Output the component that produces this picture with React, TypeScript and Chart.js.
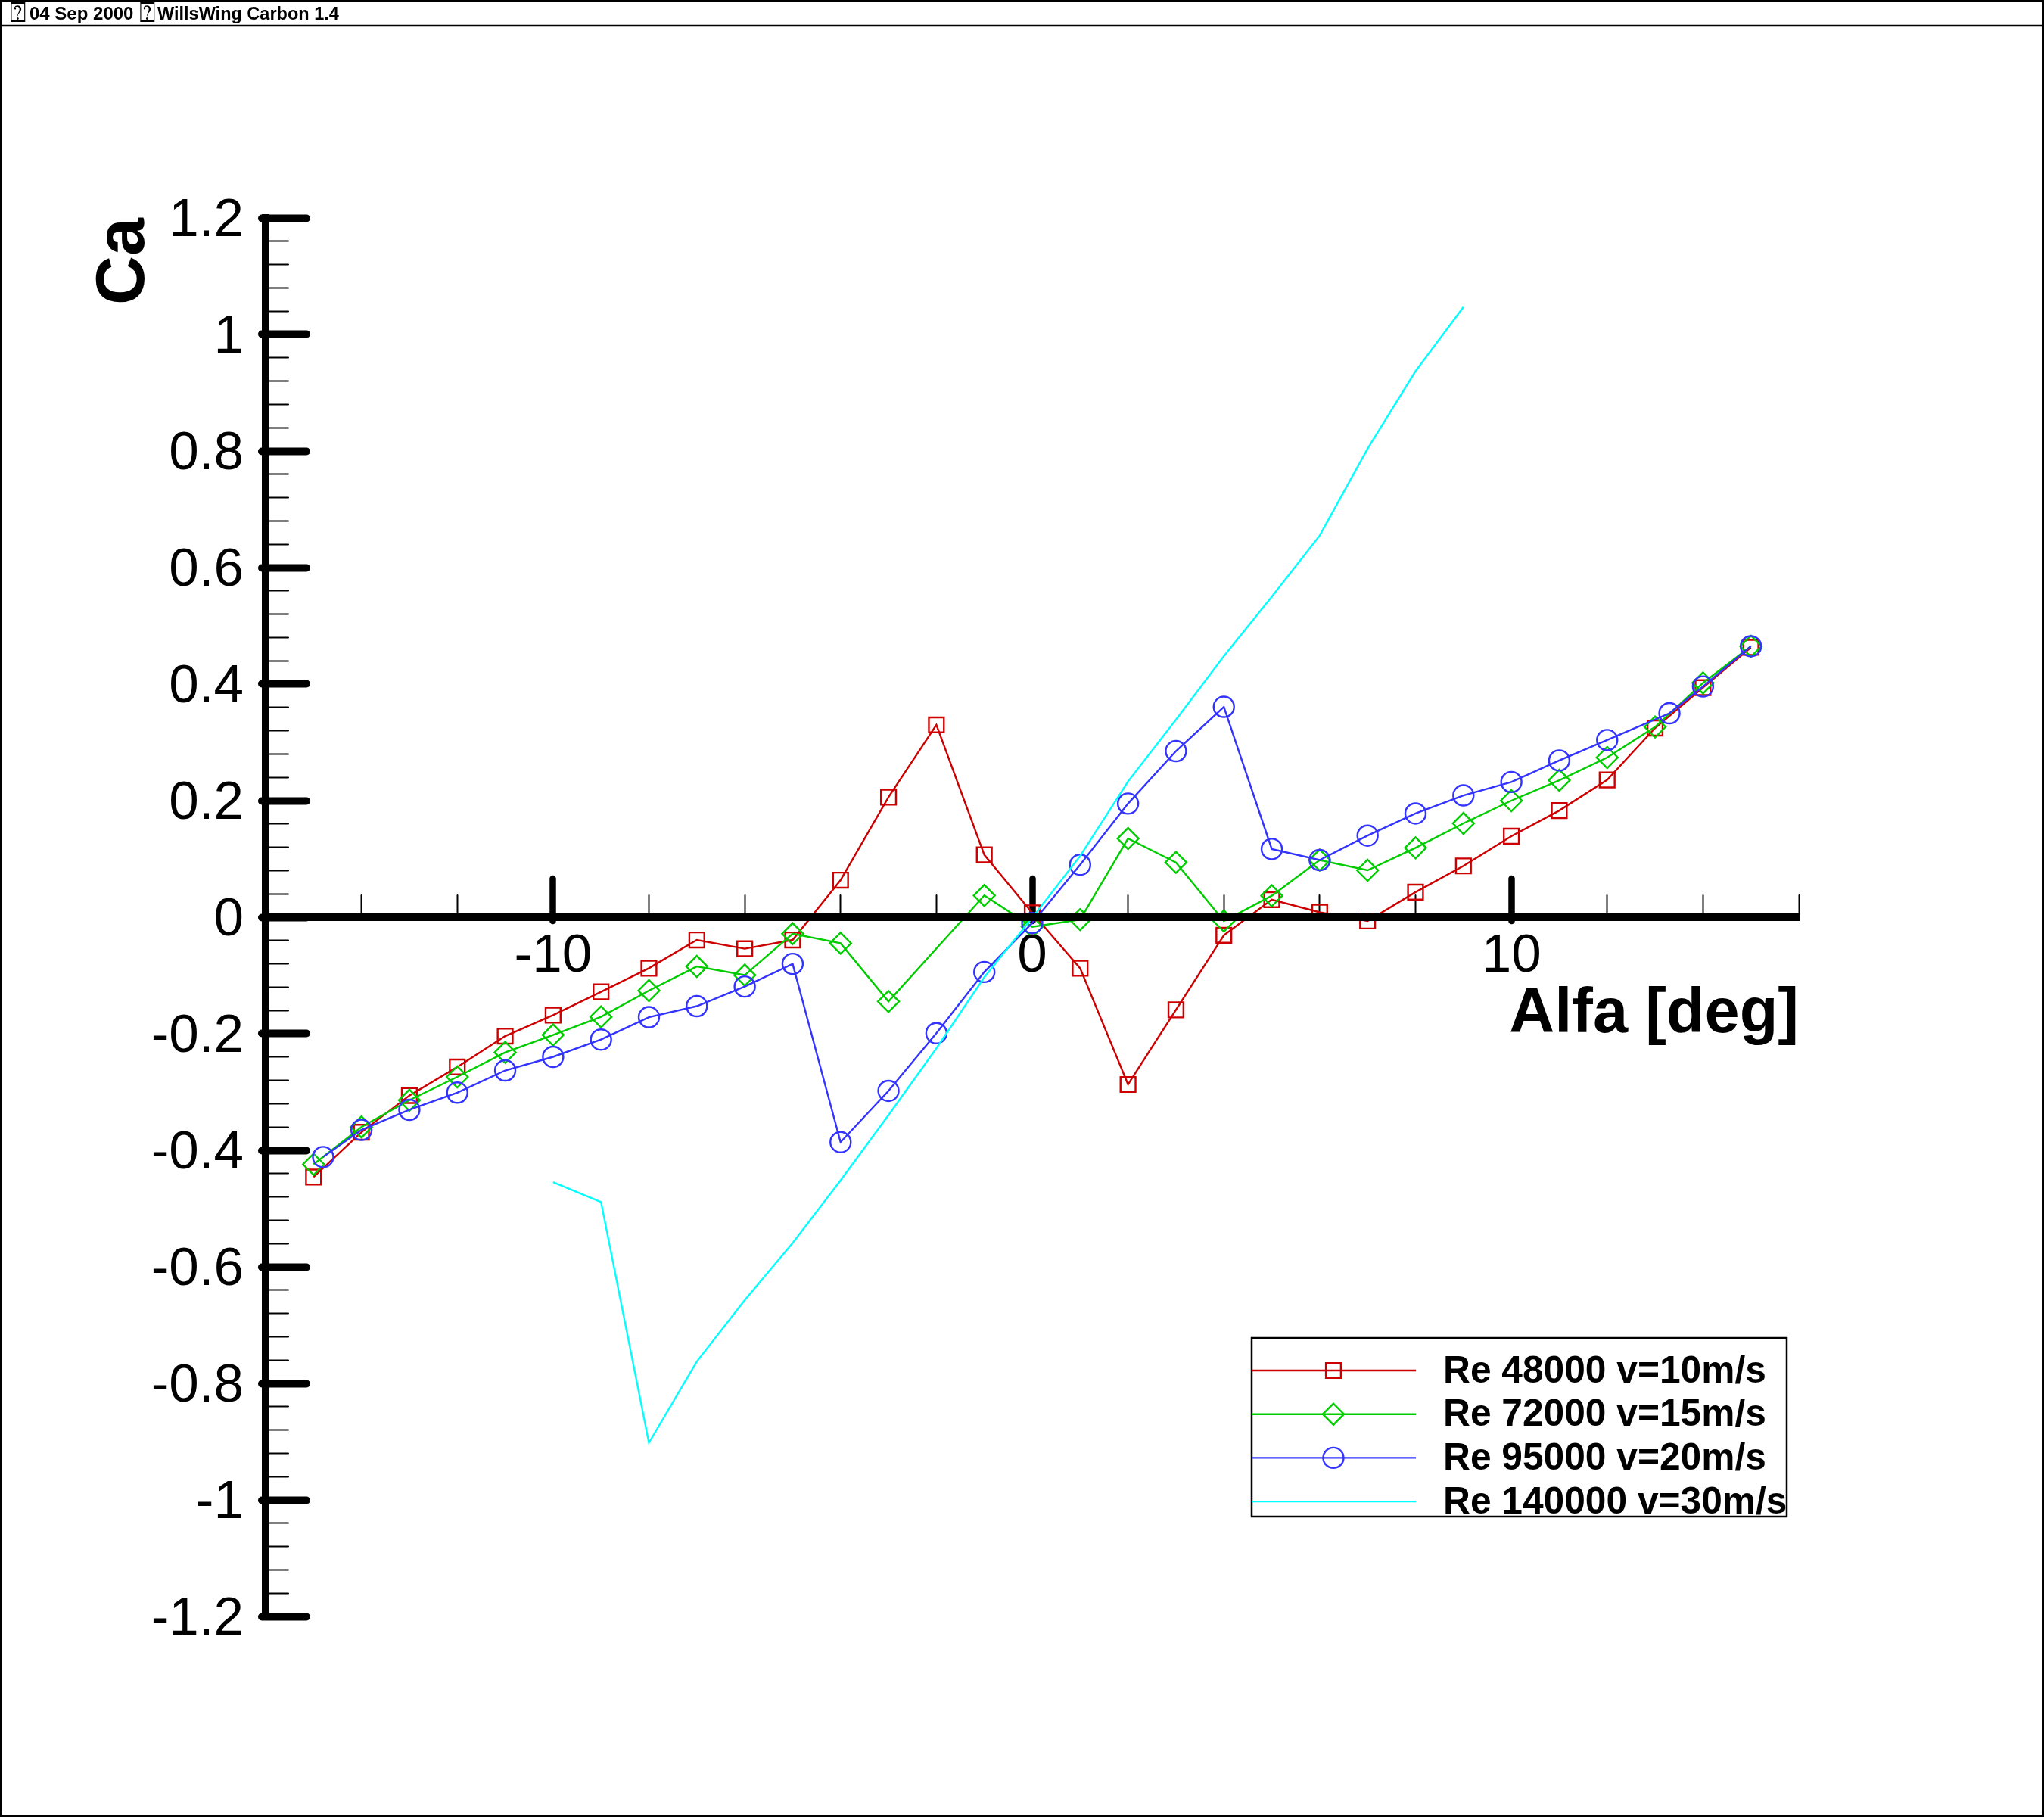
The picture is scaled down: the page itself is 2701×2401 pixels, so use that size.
import { useEffect, useRef } from "react"
import { Chart, registerables } from "chart.js"
import { drawPoint } from "chart.js/helpers"

Chart.register(...registerables)

const FONT = '"Liberation Sans"'

const redAlfa = [-15, -14, -13, -12, -11, -10, -9, -8, -7, -6, -5, -4, -3, -2, -1, 0, 1, 2, 3, 4, 5, 6, 7, 8, 9, 10, 11, 12, 13, 14, 15]
const redCa = [-0.446, -0.369, -0.306, -0.257, -0.204, -0.168, -0.128, -0.0875, -0.039, -0.054, -0.039, 0.0636, 0.206, 0.33, 0.107, 0.0075, -0.0875, -0.287, -0.159, -0.031, 0.03, 0.0085, -0.0065, 0.043, 0.088, 0.139, 0.183, 0.2356, 0.3246, 0.394, 0.463]

const greenAlfa = [-15, -14, -13, -12, -11, -10, -9, -8, -7, -6, -5, -4, -3, -1, 0, 1, 2, 3, 4, 5, 6, 7, 8, 9, 10, 11, 12, 13, 14, 15]
const greenCa = [-0.424, -0.36, -0.314, -0.274, -0.232, -0.202, -0.171, -0.126, -0.0845, -0.0994, -0.0283, -0.0447, -0.1446, 0.0373, -0.0164, -0.004, 0.135, 0.094, -0.0065, 0.0368, 0.098, 0.0805, 0.119, 0.161, 0.2, 0.235, 0.274, 0.3265, 0.402, 0.465]

const blueAlfa = [-14.8, -14, -13, -12, -11, -10, -9, -8, -7, -6, -5, -4, -3, -2, -1, 0, 1, 2, 3, 4, 5, 6, 7, 8, 9, 10, 11, 12, 13.3, 14, 15]
const blueCa = [-0.4115, -0.365, -0.3305, -0.301, -0.263, -0.2396, -0.21, -0.1715, -0.1526, -0.119, -0.08, -0.386, -0.298, -0.199, -0.094, -0.01, 0.09, 0.195, 0.285, 0.361, 0.117, 0.098, 0.14, 0.178, 0.209, 0.232, 0.269, 0.304, 0.35, 0.396, 0.465]

const cyanAlfa = [-10, -9, -8, -7, -6, -5, -4, -3, -2, -1, 0, 1, 2, 3, 4, 5, 6, 7, 8, 9]
const cyanCa = [-0.4547, -0.4887, -0.902, -0.7625, -0.657, -0.559, -0.4515, -0.3397, -0.225, -0.103, -0.001, 0.105, 0.233, 0.339, 0.448, 0.55, 0.655, 0.804, 0.937, 1.047]

const xMajorTicks = [-10, 0, 10]
const yMajorTicks = [1.2, 1, 0.8, 0.6, 0.4, 0.2, 0, -0.2, -0.4, -0.6, -0.8, -1, -1.2]

const seriesLabels = ["Re 48000 v=10m/s", "Re 72000 v=15m/s", "Re 95000 v=20m/s", "Re 140000 v=30m/s"]

const points = (xs: number[], ys: number[]) => xs.map((x, i) => ({ x, y: ys[i] }))

// page frame, header line and the Tecplot style legend box
const pagePlugin = {
  id: "page",
  beforeDraw(chart: Chart) {
    // ticks (z -1) get round ends, the axis lines (z 1) stay square
    chart.ctx.lineCap = "round"
  },
  afterDatasetsDraw(chart: Chart) {
    chart.ctx.lineCap = "butt"
  },
  afterDraw(chart: Chart) {
    const ctx = chart.ctx
    ctx.save()
    ctx.lineCap = "butt"
    ctx.strokeStyle = "#000"
    ctx.lineWidth = 3
    ctx.strokeRect(1, 1, 2699, 2399)
    ctx.lineWidth = 2.5
    ctx.beginPath()
    ctx.moveTo(0, 34)
    ctx.lineTo(2701, 34)
    ctx.stroke()

    ctx.fillStyle = "#000"
    ctx.textBaseline = "alphabetic"
    ctx.font = `36px "DejaVu Sans"`
    ctx.fillText("\u2370", 13, 29)
    ctx.fillText("\u2370", 184, 29)
    ctx.font = `bold 24px ${FONT}`
    ctx.fillText("04 Sep 2000", 39, 26)
    ctx.font = `bold 23.5px ${FONT}`
    ctx.fillText("WillsWing Carbon 1.4", 208, 26)

    ctx.lineWidth = 2.5
    ctx.strokeRect(1654, 1768, 707, 236)
    ctx.font = `bold 49.7px ${FONT}`
    ctx.textBaseline = "middle"
    chart.data.datasets.forEach((ds: any, i: number) => {
      const y = 1811 + i * 57.7
      ctx.strokeStyle = ds.borderColor
      ctx.lineWidth = 2.4
      ctx.beginPath()
      ctx.moveTo(1654, y)
      ctx.lineTo(1871, y)
      ctx.stroke()
      if (ds.pointRadius > 0) {
        ctx.fillStyle = "transparent"
        drawPoint(ctx, { pointStyle: ds.pointStyle, radius: ds.pointRadius, rotation: 0, borderWidth: 2.4 }, 1762, y)
      }
      ctx.fillStyle = "#000"
      ctx.fillText(ds.label, 1907, y + 2)
    })
    ctx.restore()
  },
}

export default function App() {
  const chartRef = useRef<HTMLCanvasElement>(null)

  useEffect(() => {
    if (!chartRef.current) return

    const chart = new Chart(chartRef.current, {
      type: "line",
      data: {
        datasets: [
          { label: seriesLabels[0], data: points(redAlfa, redCa), borderColor: "#cc0000", pointBorderColor: "#cc0000", pointStyle: "rect", pointRadius: 14, order: 4 },
          { label: seriesLabels[1], data: points(greenAlfa, greenCa), borderColor: "#00cc00", pointBorderColor: "#00cc00", pointStyle: "rectRot", pointRadius: 14, order: 3 },
          { label: seriesLabels[2], data: points(blueAlfa, blueCa), borderColor: "#3333ff", pointBorderColor: "#3333ff", pointStyle: "circle", pointRadius: 13.5, order: 2 },
          { label: seriesLabels[3], data: points(cyanAlfa, cyanCa), borderColor: "#00ffff", pointRadius: 0, order: 1 },
        ],
      },
      options: {
        responsive: false,
        animation: false,
        events: [],
        layout: { padding: { left: 0, top: 288, right: 324, bottom: 265 } },
        elements: {
          line: { borderWidth: 2.4, tension: 0 },
          point: { borderWidth: 2.4, backgroundColor: "transparent", hoverRadius: 0 },
        },
        plugins: { legend: { display: false }, tooltip: { enabled: false } },
        scales: {
          x: {
            type: "linear",
            position: { y: 0 },
            min: -16,
            max: 16,
            afterBuildTicks: (axis: any) => {
              axis.ticks = xMajorTicks.map((value) => ({ value }))
            },
            afterFit: (axis: any) => {
              axis.height = 179
            },
            ticks: {
              padding: 66,
              maxRotation: 0,
              autoSkip: false,
              color: "#000",
              z: 1,
              font: { family: FONT, size: 71 },
              callback: (v: any) => String(v),
            },
            grid: { drawOnChartArea: false, tickLength: -56, tickWidth: 8.5, tickColor: "#000", z: -1 },
            border: { width: 10, color: "#000", z: 1 },
            title: {
              display: true,
              text: "Alfa [deg]",
              align: "end",
              color: "#000",
              padding: 0,
              font: { family: FONT, size: 83, weight: "bold" },
            },
          },
          xMinor: {
            type: "linear",
            axis: "x",
            position: { y: 0 },
            min: -16,
            max: 16,
            ticks: { stepSize: 2, display: false, autoSkip: false },
            grid: { drawOnChartArea: false, tickLength: -29, tickWidth: 2, tickColor: "#000", z: -1 },
            border: { display: false },
          },
          y: {
            type: "linear",
            position: "left",
            min: -1.2,
            max: 1.2,
            afterBuildTicks: (axis: any) => {
              axis.ticks = yMajorTicks.map((value) => ({ value }))
            },
            afterFit: (axis: any) => {
              axis.width = 351
            },
            ticks: {
              padding: 83,
              labelOffset: 4.5,
              autoSkip: false,
              color: "#000",
              z: 1,
              font: { family: FONT, size: 71 },
              callback: (v: any) => String(v),
            },
            grid: { drawOnChartArea: false, tickLength: -54, tickWidth: 10, tickColor: "#000", z: -1 },
            border: { width: 10, color: "#000", z: 1 },
            title: {
              display: true,
              text: "Ca",
              align: "end",
              color: "#000",
              padding: { top: 111, bottom: 0 },
              font: { family: FONT, size: 90, weight: "bold" },
            },
          },
          yMinor: {
            type: "linear",
            axis: "y",
            position: { x: -16 },
            min: -1.2,
            max: 1.2,
            ticks: { stepSize: 0.04, display: false, autoSkip: false },
            grid: { drawOnChartArea: false, tickLength: -30, tickWidth: 2, tickColor: "#000", z: -1 },
            border: { display: false },
          },
        },
      },
      plugins: [pagePlugin],
    } as any)

    return () => {
      chart.destroy()
    }
  }, [])

  return (
    <div style={{ position: "absolute", left: 0, top: 0, background: "#fff" }}>
      <canvas ref={chartRef} width={2701} height={2401} style={{ display: "block" }} />
    </div>
  )
}
